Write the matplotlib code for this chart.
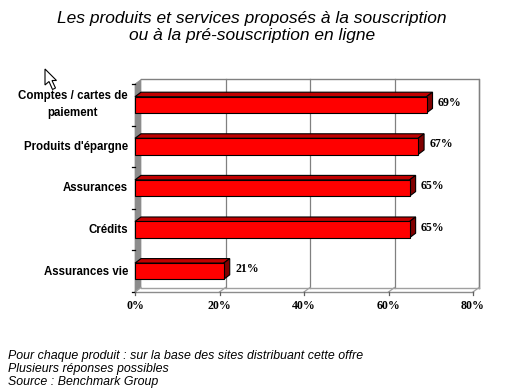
import matplotlib
matplotlib.use("Agg")
import matplotlib.pyplot as plt
from matplotlib.patches import Polygon

categories = ["Comptes / cartes de\npaiement", "Produits d'épargne", "Assurances", "Crédits", "Assurances vie"]
values = [69, 67, 65, 65, 21]
x_ticks = [0, 20, 40, 60, 80]
title = "Les produits et services proposés à la souscription\nou à la pré-souscription en ligne"
notes = ["Pour chaque produit : sur la base des sites distribuant cette offre",
         "Plusieurs réponses possibles",
         "Source : Benchmark Group"]

W, H = 513, 391
fig = plt.figure(figsize=(W / 100, H / 100), dpi=100)
ax = fig.add_axes([135 / W, 1 - 292 / H, 338 / W, 208 / H])
ax.set_xlim(0, 80)
ax.set_ylim(4.5, -0.5)
ax.axis("off")

# depth of the fake 3d, in data units
dx = 6 / 4.225
dy = 4.5 / 41.6
bar_h = 0.39

def poly(pts, face, edge="black", lw=0.8, z=3):
    ax.add_patch(Polygon(pts, closed=True, facecolor=face, edgecolor=edge, linewidth=lw, zorder=z, clip_on=False))

# walls
poly([(0, -0.5), (dx, -0.5 - dy), (dx, 4.5 - dy), (0, 4.5)], "#8c8c8c", "#8c8c8c", 0.5, 1)
ax.plot([dx, 80 + dx, 80 + dx], [-0.5 - dy, -0.5 - dy, 4.5 - dy], color="#808080", lw=1, zorder=1, clip_on=False)
for t in x_ticks[1:]:
    ax.plot([t + dx, t + dx], [-0.5 - dy, 4.5 - dy], color="#808080", lw=0.9, zorder=1, clip_on=False)
    ax.plot([t, t + dx], [4.5, 4.5 - dy], color="#a0a0a0", lw=0.9, zorder=1, clip_on=False)
ax.plot([0, 80], [4.5, 4.5], color="#8c8c8c", lw=1, zorder=1, clip_on=False)
ax.plot([dx, 80 + dx], [4.5 - dy, 4.5 - dy], color="#a0a0a0", lw=1, zorder=1, clip_on=False)
ax.plot([0, dx], [4.5, 4.5 - dy], color="#a0a0a0", lw=0.9, zorder=1, clip_on=False)

# ticks
for i in range(6):
    ax.plot([-0.8, 0], [i - 0.5, i - 0.5], color="black", lw=0.9, zorder=2, clip_on=False)
for t in x_ticks:
    ax.plot([t, t], [4.5, 4.58], color="#606060", lw=0.9, zorder=2, clip_on=False)
    ax.text(t, 4.83, f"{t}%", ha="center", va="center", fontsize=8.6, fontweight="bold",
            family="Liberation Serif", color="black")

# bars
for i, (c, v) in enumerate(zip(categories, values)):
    top = i - bar_h / 2
    bot = i + bar_h / 2
    poly([(0, top), (dx, top - dy), (v + dx, top - dy), (v, top)], "#c00000")
    poly([(v, top), (v + dx, top - dy), (v + dx, bot - dy), (v, bot)], "#800000")
    poly([(0, top), (v, top), (v, bot), (0, bot)], "#ff0000")
    ax.text(v + dx + 1.3, i - 0.05, f"{v}%", ha="left", va="center", fontsize=8.6, fontweight="bold",
            family="Liberation Serif", color="black")
    if i == 0:
        ax.text(-14.8, i - 0.015, c, ha="center", va="center", fontsize=8.3, fontweight="bold",
                family="Liberation Sans", color="black", linespacing=1.55)
    else:
        ax.text(-1.6, i + 0.01, c, ha="right", va="center", fontsize=8.3, fontweight="bold",
                family="Liberation Sans", color="black")

fig.text(252 / W, 1 - 27 / H, title, ha="center", va="center", fontsize=12.5, style="italic",
         family="Liberation Sans", color="black", linespacing=1.22)
for note, y in zip(notes, [356, 369, 382]):
    fig.text(8 / W, 1 - y / H, note, ha="left", va="center", fontsize=8.9, style="italic",
             family="Liberation Sans", color="black")

# mouse cursor left in the screenshot
cursor = [(45, 69), (45, 85), (49, 81.5), (52.5, 89.5), (55.5, 88), (52, 80.5), (56.5, 80.5)]
fig.add_artist(Polygon([(x / W, 1 - y / H) for x, y in cursor], closed=True, facecolor="white",
                       edgecolor="black", linewidth=0.8, transform=fig.transFigure))

fig.savefig("out.png", dpi=100)
